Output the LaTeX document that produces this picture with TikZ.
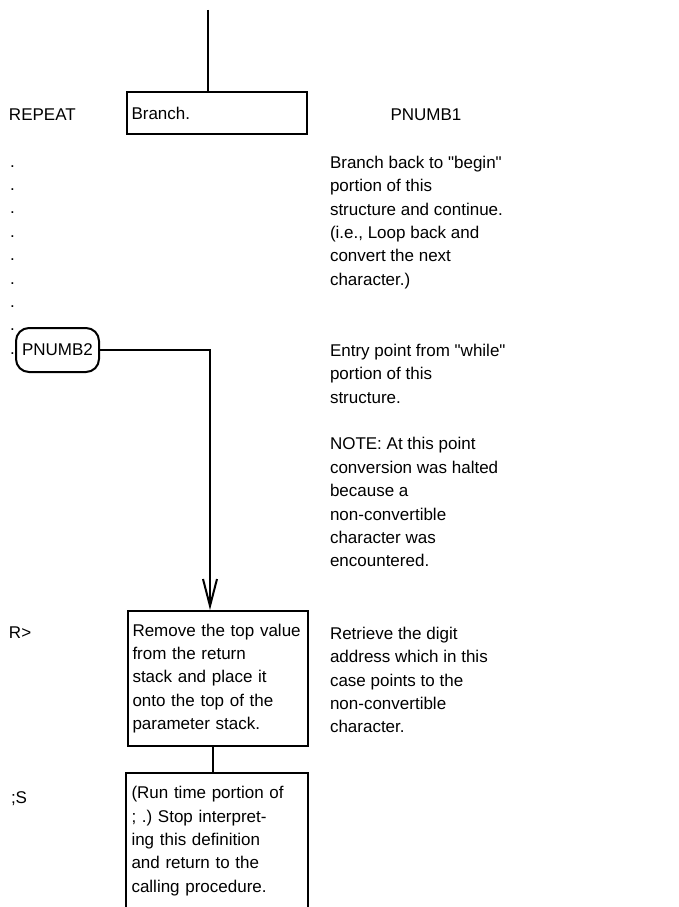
\documentclass[tikz,border=0pt]{standalone}
\usepackage{fontspec}
\setmainfont{Liberation Sans}
\usetikzlibrary{arrows.meta}
\frenchspacing
\begin{document}
\begin{tikzpicture}[x=1pt,y=-1pt,line width=2pt,
  every node/.style={font=\fontsize{17}{23.4}\selectfont},
  lbl/.style={anchor=base west,inner sep=0pt},
  note/.style={anchor=north west,inner sep=0pt,align=left},
  procbox/.style={draw,anchor=north west,text width=171pt,inner xsep=4.5pt,inner ysep=0pt,align=left},
  termbox/.style={draw,rounded corners=13pt,minimum width=83pt,minimum height=44pt,inner sep=1pt}]
  \useasboundingbox (0,0) rectangle (679,907);
  % left column
  \node[lbl] (repeat) at (8,120) {REPEAT};
  \foreach \i in {0,...,8}
    {\node[lbl] (dot\i) at (9,{167+23.4*\i}) {.};}
  \node[lbl] (rfromlbl) at (8,638) {R>};
  \node[lbl] (stoplbl) at (10,803) {;S};
  % boxes
  \coordinate (topend) at (208,10);
  \node[procbox,minimum height=42pt] (branch) at (126,91) {Branch.};
  \node[termbox] (pnumb2) at (57.5,350) {PNUMB2};
  \node[procbox,minimum height=135pt] (rfrom) at (127,610)
    {Remove the top value\\from the return\\stack and place it\\onto the top of the\\parameter stack.};
  \node[procbox,draw=none,minimum height=134pt] (stop) at (126,773)
    {(Run time portion of\\; .) Stop interpret-\\ing this definition\\and return to the\\calling procedure.};
  \draw (stop.south west) -- (stop.north west) -- (stop.north east) -- (stop.south east);
  % connectors
  \coordinate (bend) at (210,350);
  \draw (topend) -- (topend |- branch.north);
  \draw[-{Straight Barb[length=27pt,width=14pt]}] (pnumb2.east) -- (bend) -- (bend |- rfrom.north);
  \draw ([xshift=-5pt]rfrom.south) -- ([xshift=-5pt]rfrom.south |- stop.north);
  % right column
  \node[lbl,anchor=base] (pnumb1) at (426,120) {PNUMB1};
  \node[note] (branchnote) at (329,155)
    {Branch back to \textquotedbl begin\textquotedbl\\portion of this\\structure and continue.\\(i.e., Loop back and\\convert the next\\character.)};
  \node[note] (entrynote) at (329,343)
    {Entry point from \textquotedbl while\textquotedbl\\portion of this\\structure.\\[23.4pt]NOTE: At this point\\conversion was halted\\because a\\non-convertible\\character was\\encountered.};
  \node[note] (rfromnote) at (329,626)
    {Retrieve the digit\\address which in this\\case points to the\\non-convertible\\character.};
\end{tikzpicture}
\end{document}
